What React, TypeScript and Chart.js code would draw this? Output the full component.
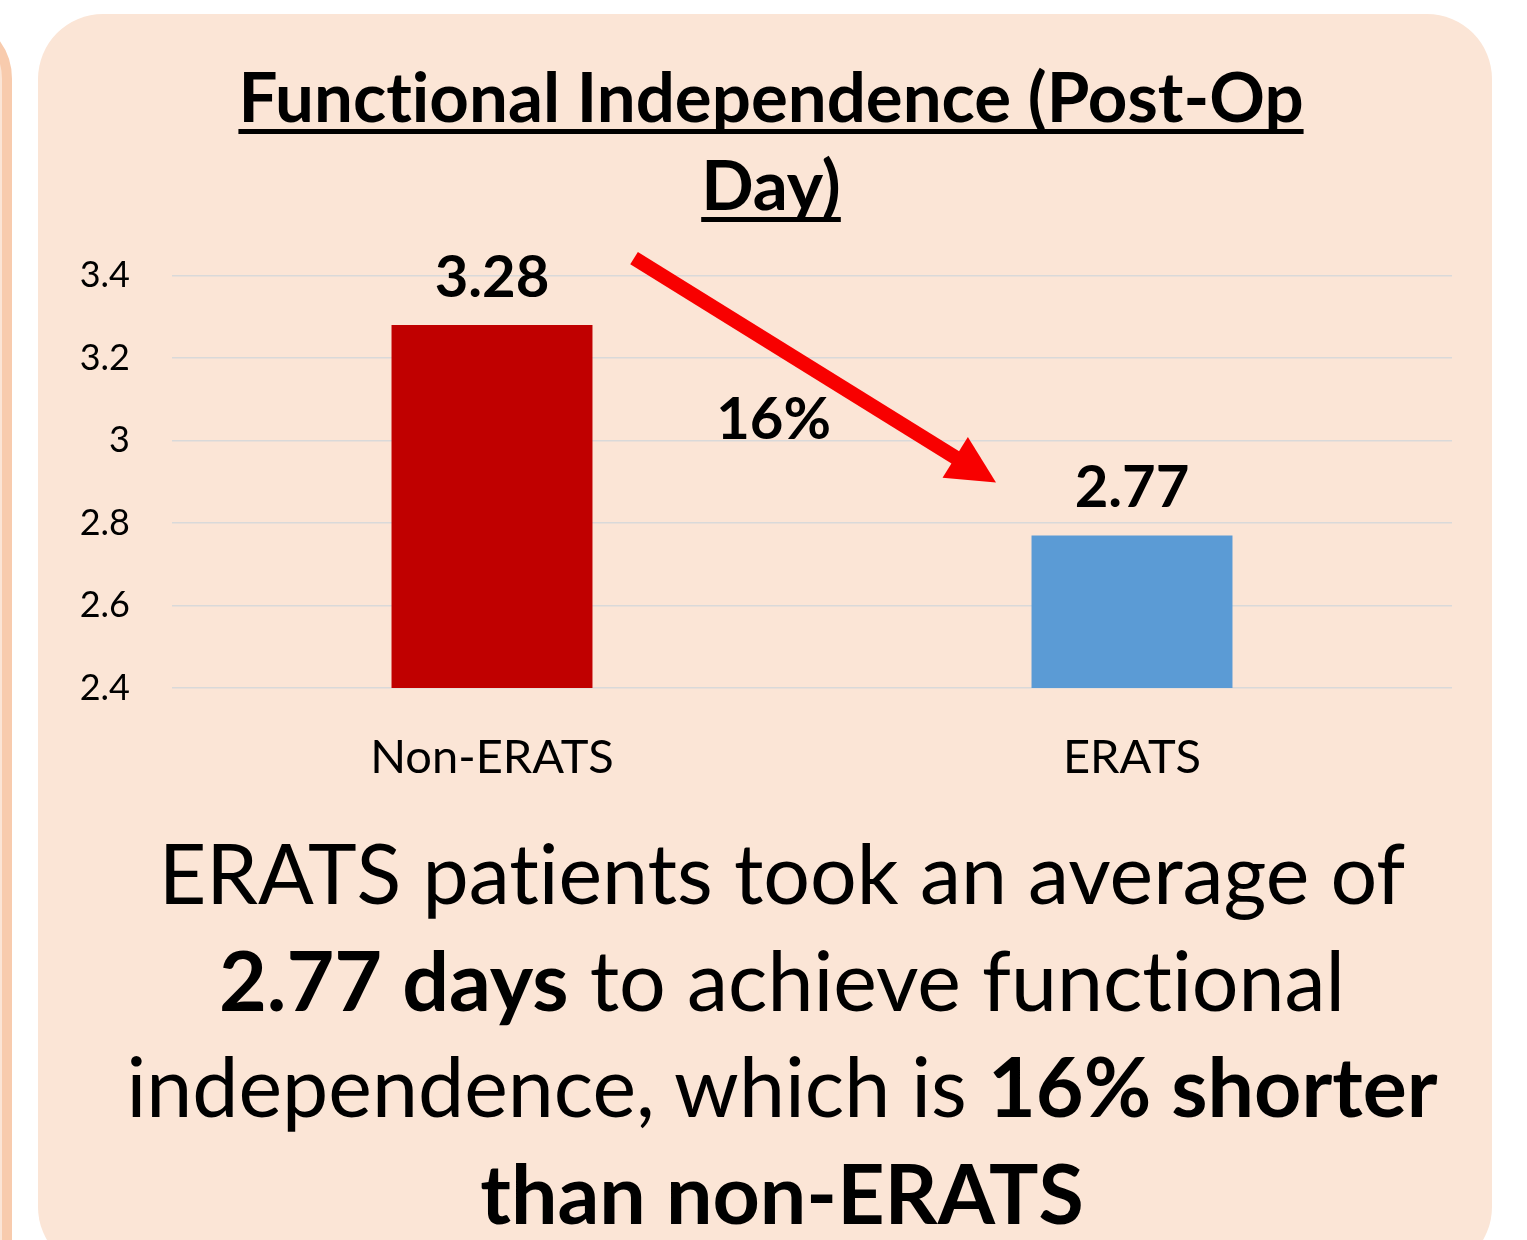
import React, { useEffect, useRef } from "react";
import { Chart, registerables } from "chart.js";

Chart.register(...registerables);

const categories = ["Non-ERATS", "ERATS"];
const values = [3.28, 2.77];
const barColors = ["#C00000", "#5B9BD5"];
const yMin = 2.4;
const yMax = 3.4;
const yStep = 0.2;
const changeLabel = "16%";
const titleLines = ["Functional Independence (Post-Op", "Day)"];

const FONT = "Lato, 'Open Sans', sans-serif";

const overlayPlugin = {
  id: "overlay",
  afterDatasetsDraw(chart: any) {
    const ctx = chart.ctx;
    const meta = chart.getDatasetMeta(0);
    const xs = chart.scales.x;
    const ys = chart.scales.y;
    ctx.save();
    // value labels
    ctx.fillStyle = "#000";
    ctx.font = `bold 58px ${FONT}`;
    ctx.textAlign = "center";
    ctx.textBaseline = "alphabetic";
    meta.data.forEach((bar: any, i: number) => {
      ctx.fillText(values[i].toFixed(2), bar.x, bar.y - 28);
    });
    // arrow annotation
    const x0 = xs.getPixelForValue(0);
    const x1 = xs.getPixelForValue(1);
    const sx = x0 + 0.222 * (x1 - x0);
    const sy = ys.getPixelForValue(3.4425);
    const ex = x0 + 0.7875 * (x1 - x0);
    const ey = ys.getPixelForValue(2.898);
    const dx = ex - sx;
    const dy = ey - sy;
    const len = Math.hypot(dx, dy);
    const ux = dx / len;
    const uy = dy / len;
    const headLen = 48;
    const headHalf = 24;
    const bx = ex - ux * headLen;
    const by = ey - uy * headLen;
    ctx.strokeStyle = "#F80000";
    ctx.fillStyle = "#F80000";
    ctx.lineWidth = 14.5;
    ctx.lineCap = "butt";
    ctx.beginPath();
    ctx.moveTo(sx, sy);
    ctx.lineTo(bx + ux * 2, by + uy * 2);
    ctx.stroke();
    ctx.beginPath();
    ctx.moveTo(ex, ey);
    ctx.lineTo(bx - uy * headHalf, by + ux * headHalf);
    ctx.lineTo(bx + uy * headHalf, by - ux * headHalf);
    ctx.closePath();
    ctx.fill();
    // change label
    ctx.fillStyle = "#000";
    ctx.font = `bold 58px ${FONT}`;
    ctx.fillText(changeLabel, x0 + 0.44 * (x1 - x0), ys.getPixelForValue(3.003));
    ctx.restore();
  },
};

function BarChart() {
  const ref = useRef<HTMLCanvasElement>(null);
  useEffect(() => {
    if (!ref.current) return;
    const chart = new Chart(ref.current, {
      type: "bar",
      data: {
        labels: categories,
        datasets: [
          {
            data: values,
            backgroundColor: barColors,
            borderWidth: 0,
            barPercentage: 0.314,
            categoryPercentage: 1,
          },
        ],
      },
      options: {
        responsive: false,
        animation: false,
        devicePixelRatio: 1,
        layout: { padding: { top: 29, right: 28, left: 0, bottom: 0 } },
        plugins: {
          legend: { display: false },
          tooltip: { enabled: false },
          title: { display: false },
        },
        scales: {
          x: {
            grid: { display: false, drawTicks: false },
            border: { display: false },
            ticks: {
              color: "#000",
              font: { family: FONT, size: 47 },
              padding: 42,
              maxRotation: 0,
            },
            afterFit(scale: any) {
              scale.height = 122;
            },
          },
          y: {
            min: yMin,
            max: yMax,
            grid: { color: "#D9D9D9", lineWidth: 1.5, drawTicks: false },
            border: { display: false },
            ticks: {
              stepSize: yStep,
              color: "#000",
              font: { family: FONT, size: 36 },
              padding: 42,
              callback: (v: any) => String(Number(Number(v).toFixed(1))),
            },
            afterFit(scale: any) {
              scale.width = 132;
            },
          },
        },
      },
      plugins: [overlayPlugin],
    });
    let alive = true;
    (document as any).fonts?.ready?.then(() => {
      if (alive) chart.update();
    });
    return () => {
      alive = false;
      chart.destroy();
    };
  }, []);
  return (
    <canvas
      ref={ref}
      width={1440}
      height={598}
      style={{ position: "absolute", left: 40, top: 212, width: 1440, height: 598 }}
    />
  );
}

export default function App() {
  return (
    <div
      style={{
        position: "absolute",
        left: 0,
        top: 0,
        width: 1527,
        height: 1240,
        overflow: "hidden",
        background: "#FFFFFF",
        fontFamily: FONT,
        fontVariantLigatures: "none",
        fontFeatureSettings: '"liga" 0, "clig" 0',
      }}
    >
      <div
        style={{
          position: "absolute",
          left: -200,
          top: 14,
          width: 212,
          height: 1300,
          boxSizing: "border-box",
          border: "10px solid #F8CBAD",
          borderRadius: 65,
          background: "#FBE5D6",
        }}
      />
      <div
        style={{
          position: "absolute",
          left: 38,
          top: 14,
          width: 1454,
          height: 1258,
          borderRadius: 65,
          background: "#FBE5D6",
        }}
      />
      <div
        style={{
          position: "absolute",
          left: 71,
          top: 52,
          width: 1400,
          textAlign: "center",
          fontWeight: 700,
          fontSize: 69,
          lineHeight: "88px",
          color: "#000",
          whiteSpace: "nowrap",
        }}
      >
        {titleLines.map((l, i) => (
          <div key={i}>
            <span
              style={{
                textDecoration: "underline",
                textDecorationThickness: 5,
                textUnderlineOffset: 7,
                textDecorationSkipInk: "none",
              }}
            >
              {l}
            </span>
          </div>
        ))}
      </div>
      <BarChart />
      <div
        style={{
          position: "absolute",
          left: -18,
          top: 820,
          width: 1600,
          textAlign: "center",
          fontSize: 82.5,
          lineHeight: "106.5px",
          color: "#000",
          whiteSpace: "nowrap",
        }}
      >
        <div>ERATS patients took an average of</div>
        <div>
          <b>2.77 days</b> to achieve functional
        </div>
        <div>
          independence, which is <b>16% shorter</b>
        </div>
        <div>
          <b>than non-ERATS</b>
        </div>
      </div>
    </div>
  );
}
